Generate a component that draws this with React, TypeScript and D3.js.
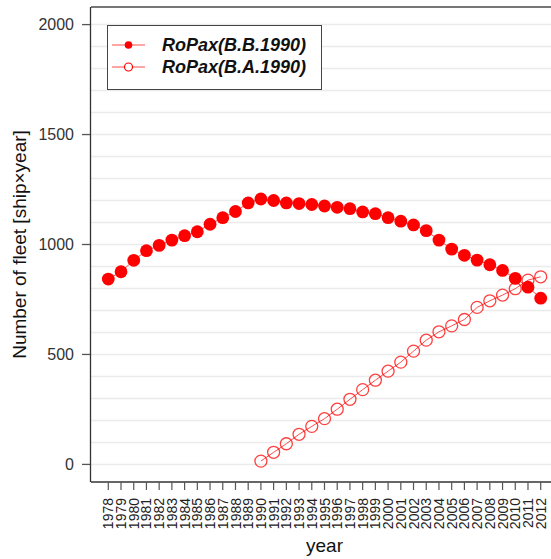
import React from "react";
import * as d3 from "d3";

const years = d3.range(1978, 2013);
const beforeValues = [
  843, 876, 928, 972, 996, 1020, 1040, 1058, 1092, 1122, 1150, 1189, 1207, 1200,
  1189, 1186, 1182, 1175, 1169, 1163, 1148, 1140, 1122, 1106, 1089, 1063, 1020,
  979, 951, 929, 908, 882, 846, 806, 756,
];
const afterYears = d3.range(1990, 2013);
const afterValues = [
  15, 55, 94, 137, 173, 208, 251, 296, 340, 383, 424, 465, 515, 565, 603, 630, 659,
  714, 744, 770, 799, 838, 853,
];
const yTicks = [0, 500, 1000, 1500, 2000];
const gridValues = d3.range(0, 2001, 100);
const legendLabels = ["RoPax(B.B.1990)", "RoPax(B.A.1990)"];

const W = 551;
const H = 559;
const left = 91;
const right = 558;
const top = 7;
const bottom = 482;
const RED = "#ff0000";
const FONT = "'Liberation Sans', Arial, Helvetica, sans-serif";

export default function App() {
  const x = d3.scaleLinear().domain([1976.64, 2013.36]).range([left, right]);
  const y = d3.scaleLinear().domain([-80, 2080]).range([bottom, top]);

  const line = d3
    .line<[number, number]>()
    .x((d) => x(d[0]))
    .y((d) => y(d[1]));

  const before: [number, number][] = years.map((yr, i) => [yr, beforeValues[i]]);
  const after: [number, number][] = afterYears.map((yr, i) => [yr, afterValues[i]]);

  return (
    <svg
      width={W}
      height={H}
      style={{ position: "absolute", left: 0, top: 0, background: "#fff" }}
      fontFamily={FONT}
    >
      <defs>
        <clipPath id="plotArea">
          <rect x={left} y={top} width={right - left} height={bottom - top} />
        </clipPath>
      </defs>

      {/* horizontal grid */}
      {gridValues.map((v) => (
        <line
          key={v}
          x1={left}
          x2={right}
          y1={y(v)}
          y2={y(v)}
          stroke="#ebebeb"
          strokeWidth={1.5}
        />
      ))}

      {/* series */}
      <g clipPath="url(#plotArea)">
        <path d={line(before) || ""} fill="none" stroke={RED} strokeOpacity={0.7} strokeWidth={1} />
        {before.map((d) => (
          <circle key={d[0]} cx={x(d[0])} cy={y(d[1])} r={6.4} fill={RED} />
        ))}
        <path d={line(after) || ""} fill="none" stroke={RED} strokeOpacity={0.7} strokeWidth={1} />
        {after.map((d) => (
          <circle
            key={d[0]}
            cx={x(d[0])}
            cy={y(d[1])}
            r={6}
            fill="none"
            stroke={RED}
            strokeOpacity={0.75}
            strokeWidth={1.3}
          />
        ))}
      </g>

      {/* frame */}
      <line x1={left} x2={W} y1={top} y2={top} stroke="#777" strokeWidth={2} />
      <line x1={left - 0.5} x2={left - 0.5} y1={top} y2={bottom} stroke="#333" strokeWidth={1.3} />
      <line x1={left} x2={W} y1={bottom} y2={bottom} stroke="#333" strokeWidth={1.3} />

      {/* y axis */}
      {yTicks.map((v) => (
        <g key={v}>
          <line x1={left - 9} x2={left - 1} y1={y(v)} y2={y(v)} stroke="#555" strokeWidth={1.3} />
          <text
            x={left - 17}
            y={y(v)}
            dy="0.36em"
            textAnchor="end"
            fontSize={16}
            fill="#333"
          >
            {v}
          </text>
        </g>
      ))}
      <text
        transform={`translate(26, ${(top + bottom) / 2}) rotate(-90)`}
        textAnchor="middle"
        fontSize={19}
        fill="#111"
      >
        Number of fleet [ship×year]
      </text>

      {/* x axis */}
      {years.map((yr) => (
        <g key={yr}>
          <line x1={x(yr)} x2={x(yr)} y1={bottom} y2={bottom + 8} stroke="#555" strokeWidth={1.2} />
          <text
            transform={`translate(${x(yr)}, ${bottom + 16}) rotate(-90)`}
            textAnchor="end"
            dy="0.36em"
            fontSize={14}
            fill="#222"
          >
            {yr}
          </text>
        </g>
      ))}
      <text x={(left + right) / 2} y={552} textAnchor="middle" fontSize={19} fill="#111">
        year
      </text>

      {/* legend */}
      <rect x={107.5} y={25.5} width={214} height={64} fill="#fff" stroke="#444" strokeWidth={1} />
      {legendLabels.map((label, i) => {
        const ly = 45 + i * 22;
        return (
          <g key={label}>
            <line x1={112} x2={145} y1={ly} y2={ly} stroke={RED} strokeOpacity={0.7} strokeWidth={1} />
            {i === 0 ? (
              <circle cx={128.5} cy={ly} r={3.8} fill={RED} />
            ) : (
              <circle cx={128.5} cy={ly} r={4} fill="#fff" stroke={RED} strokeWidth={1.2} />
            )}
            <text
              x={162}
              y={ly}
              dy="0.36em"
              fontSize={18}
              fontWeight="bold"
              fontStyle="italic"
              fill="#111"
            >
              {label}
            </text>
          </g>
        );
      })}
    </svg>
  );
}
